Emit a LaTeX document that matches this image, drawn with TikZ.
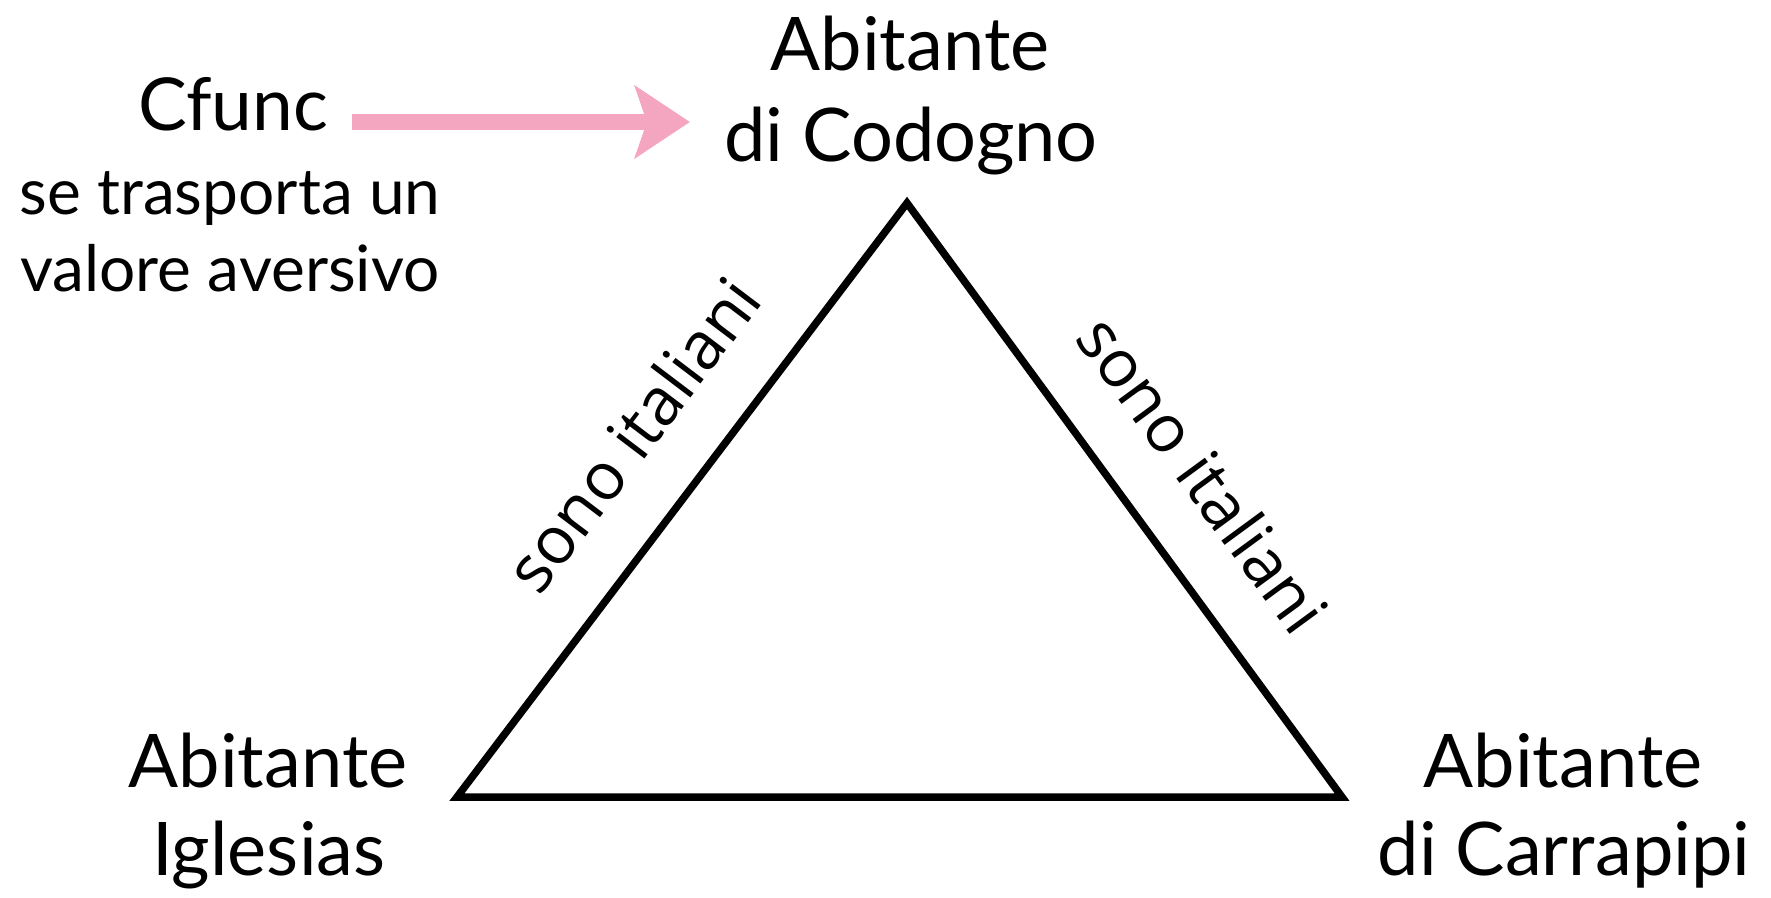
\documentclass[tikz,border=0pt]{standalone}
\usepackage{fontspec}
\setmainfont{Lato}
\newfontfamily\labfont{Open Sans}
\usetikzlibrary{arrows.meta}
\definecolor{arrowpink}{HTML}{F4A6C1}
\begin{document}
\begin{tikzpicture}[x=1pt,y=-1pt,
  big/.style={font=\fontsize{74}{84}\selectfont, inner sep=0pt, anchor=base},
  mid/.style={font=\fontsize{73}{80}\selectfont, inner sep=0pt, anchor=base},
  small/.style={font=\fontsize{64}{70}\selectfont, inner sep=0pt, anchor=base},
  edgelab/.style={font=\labfont\fontsize{66}{74}\selectfont, sloped, inner sep=0pt},
  tri/.style={line width=7.5pt, line join=miter},
  pinkarrow/.style={draw=arrowpink, line width=16pt, -{Stealth[length=55pt,width=72pt,inset=12pt]}}]
\useasboundingbox (0,0) rectangle (1771,897);
\fill[white] (0,0) rectangle (1771,897);
% texts
\node[big] (cod1) at (910,70) {Abitante};
\node[big] (cod2) at (911,161) {di Codogno};
\node[mid] (cfunc) at (233,130) {Cfunc};
\node[small] (se1) at (230,214) {se trasporta un};
\node[small] (se2) at (230,291) {valore aversivo};
\node[big] (ig1) at (268,787) {Abitante};
\node[big] (ig2) at (269,875) {Iglesias};
\node[big] (ca1) at (1563,787) {Abitante};
\node[big] (ca2) at (1564,875) {di Carrapipi};
% triangle
\coordinate (top) at (907,203);
\coordinate (bl) at (457,797);
\coordinate (br) at (1342,797);
\draw[tri] (bl) -- node[edgelab, pos=.53, above=50pt] (labL) {sono italiani}
  (top) -- node[edgelab, pos=.535, above=50pt] (labR) {sono italiani}
  (br) -- cycle;
% arrow
\coordinate (arrowy) at (0,122);
\draw[pinkarrow] ([xshift=24pt]cfunc.east |- arrowy) -- ([xshift=-34pt]cod2.west |- arrowy);
\end{tikzpicture}
\end{document}
